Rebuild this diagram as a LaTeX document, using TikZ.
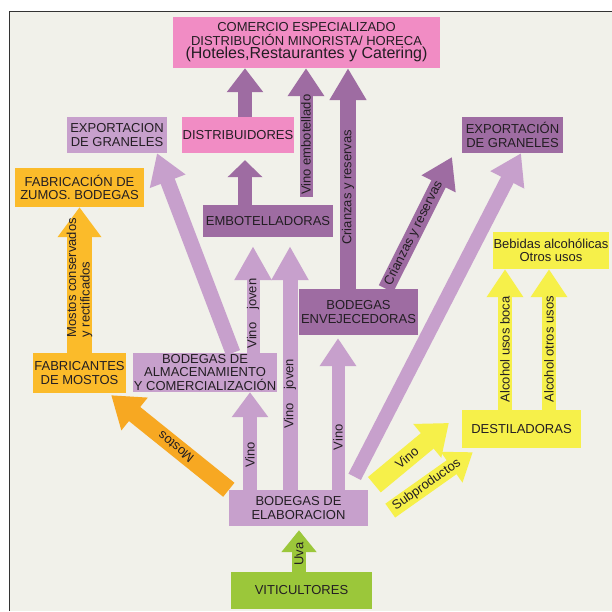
\documentclass[tikz,border=0pt]{standalone}
\usepackage{fontspec}
\setmainfont{Liberation Sans}
\usetikzlibrary{arrows.meta,calc}
\definecolor{paper}{RGB}{241,241,234}
\definecolor{pinkish}{RGB}{241,140,196}
\definecolor{lilac}{RGB}{199,160,204}
\definecolor{plum}{RGB}{158,108,162}
\definecolor{amber}{RGB}{251,187,42}
\definecolor{tangerine}{RGB}{247,168,34}
\definecolor{lemon}{RGB}{246,240,74}
\definecolor{leaf}{RGB}{155,199,58}
\definecolor{ink}{RGB}{35,30,35}

\begin{document}
\begin{tikzpicture}
  [
    x=1pt, y=-1pt,
    every node/.style={font=\fontsize{13}{13.5}\selectfont, text=ink},
    box/.style={inner sep=0pt, align=center},
    pinkbox/.style={box, fill=pinkish},
    lilacbox/.style={box, fill=lilac},
    plumbox/.style={box, fill=plum},
    amberbox/.style={box, fill=amber},
    lemonbox/.style={box, fill=lemon},
    leafbox/.style={box, fill=leaf},
    pipe/.style={line width=14pt, -{Triangle[width=35pt, length=28pt]}},
    tag/.style={sloped, inner sep=0pt}
  ]
  \useasboundingbox (0,0) rectangle (612,611);
  \fill[white] (0,0) rectangle (612,611);
  \fill[paper] (9,11) rectangle (612,611);
  \draw[line width=1pt, black!80] (9,611) -- (9,11) -- (612,11);

  \node[pinkbox, minimum width=267pt, minimum height=51pt] (comercio) at (306.5,42.5)
    {COMERCIO ESPECIALIZADO\\DISTRIBUCIÓN MINORISTA/ HORECA\\{\fontsize{16}{15}\selectfont (Hoteles,Restaurantes y Catering)}};
  \node[lilacbox, minimum width=100pt, minimum height=36pt] (expL) at (117,135) {EXPORTACION\\DE GRANELES};
  \node[pinkbox, minimum width=112pt, minimum height=36pt] (distrib) at (238,135) {DISTRIBUIDORES};
  \node[plumbox, minimum width=101pt, minimum height=36pt] (expR) at (512.5,135) {EXPORTACIÓN\\DE GRANELES};
  \node[amberbox, minimum width=129pt, minimum height=39pt] (zumos) at (79.5,187.5) {FABRICACIÓN DE\\ZUMOS. BODEGAS};
  \node[plumbox, minimum width=130pt, minimum height=32pt] (embot) at (268,221) {EMBOTELLADORAS};
  \node[lemonbox, minimum width=116pt, minimum height=37pt] (bebidas) at (551,250.5) {Bebidas alcohólicas\\Otros usos};
  \node[plumbox, minimum width=119pt, minimum height=46pt] (envej) at (358.5,312) {BODEGAS\\ENVEJECEDORAS};
  \node[amberbox, minimum width=93pt, minimum height=40pt] (fabric) at (79.5,373) {FABRICANTES\\DE MOSTOS};
  \node[lilacbox, minimum width=144pt, minimum height=39pt] (almac) at (205,372.5) {BODEGAS DE\\ALMACENAMIENTO\\Y COMERCIALIZACIÓN};
  \node[lemonbox, minimum width=119pt, minimum height=38pt] (destil) at (521.5,429) {DESTILADORAS};
  \node[lilacbox, minimum width=139pt, minimum height=36pt] (elab) at (298.5,508) {BODEGAS DE\\ELABORACION};
  \node[leafbox, minimum width=141pt, minimum height=37pt] (vitic) at (301.5,590.5) {VITICULTORES};

  \coordinate (crtip) at (452,157);

  % towards the shops
  \draw[pipe, plum, -{Triangle[width=35pt, length=24pt]}] ($(distrib.north)+(7,0)$) -- ($(comercio.south)+(-61.5,0)$);
  \draw[pipe, plum, -{Triangle[width=34pt, length=17pt]}, shorten >=7pt] ($(embot.north)+(-23,0)$) -- ($(distrib.south)+(7,0)$);
  \draw[pipe, plum, line width=13pt, shorten <=8pt] ($(embot.north)+(38,0)$) -- ($(comercio.south)+(-0.5,0)$)
    node[tag, pos=0.44] {Vino embotellado};
  \draw[pipe, plum, line width=16pt, -{Triangle[width=35pt, length=32pt]}] ($(envej.north)+(-10.5,0)$) -- ($(comercio.south)+(41.5,0)$)
    node[tag, pos=0.46] {Crianzas y reservas};
  \draw[pipe, plum, line width=16pt, -{Triangle[width=36pt, length=30pt]}] ($(envej.north)+(27.5,0)$) -- (crtip)
    node[tag, pos=0.42] {Crianzas y reservas};

  % wine
  \draw[pipe, lilac, -{Triangle[width=35pt, length=25pt]}] ($(elab.north)+(-48.5,0)$) -- ($(almac.south)+(45,0)$)
    node[tag, pos=0.36] {Vino};
  \draw[pipe, lilac, line width=15pt, -{Triangle[width=35pt, length=34pt]}, shorten >=9pt] ($(elab.north)+(-8.5,0)$) -- ($(embot.south)+(22,0)$)
    node[tag, pos=0.38] {Vino\hspace{1em}joven};
  \draw[pipe, lilac, line width=13pt, -{Triangle[width=35pt, length=34pt]}, shorten >=9pt] ($(almac.north)+(48,0)$) -- ($(embot.south)+(-15,0)$)
    node[tag, pos=0.34] {Vino\hspace{1em}joven};
  \draw[pipe, lilac, line width=13pt, shorten >=3pt] ($(elab.north)+(39.5,0)$) -- ($(envej.south)+(-20.5,0)$)
    node[tag, pos=0.34] {Vino};
  \draw[pipe, lilac, line width=15pt, -{Triangle[width=36pt, length=30pt]}] ($(almac.north)+(28,0)$) -- ($(expL.south)+(40,0)$);
  \draw[pipe, lilac, -{Triangle[width=36pt, length=30pt]}, shorten <=14.6pt] ($(elab.north)+(49.5,0)$) -- ($(expR.south)+(8.5,0)$);

  % must
  \draw[pipe, tangerine, line width=18pt, -{Triangle[width=40pt, length=30pt]}] (elab.north west) -- ($(fabric.south east)+(-15,2)$)
    node[tag, rotate=180, pos=0.45] {Mostos};
  \draw[pipe, amber, line width=25pt, -{Triangle[width=42pt, length=30pt]}] (fabric.north) -- (zumos.south)
    node[tag, pos=0.02, anchor=west, align=left] {Mostos conservados\\y rectificados};

  % distillery
  \draw[pipe, lemon, line width=20pt, -{Triangle[width=42pt, length=28pt]}, shorten <=8pt] (elab.north east) -- ($(destil.west)+(-13,-6)$)
    node[tag, pos=0.48] {Vino};
  \draw[pipe, lemon, line width=17pt, -{Triangle[width=36pt, length=26pt]}, shorten <=27pt] (elab.south east) -- ($(destil.south west)+(11,4)$)
    node[tag, pos=0.56] {Subproductos};
  \draw[pipe, lemon] ($(destil.north)+(-16.5,0)$) -- ($(bebidas.south)+(-46,0)$)
    node[tag, pos=0.43] {Alcohol usos boca};
  \draw[pipe, lemon] ($(destil.north)+(27.5,0)$) -- ($(bebidas.south)+(-2,0)$)
    node[tag, pos=0.43] {Alcohol otros usos};

  % grapes
  \draw[pipe, leaf, -{Triangle[width=34pt, length=22pt]}, shorten >=4pt] ($(vitic.north)+(-2.5,0)$) -- ($(elab.south)+(0.5,0)$)
    node[tag, pos=0.39] {Uva};

\end{tikzpicture}
\end{document}
